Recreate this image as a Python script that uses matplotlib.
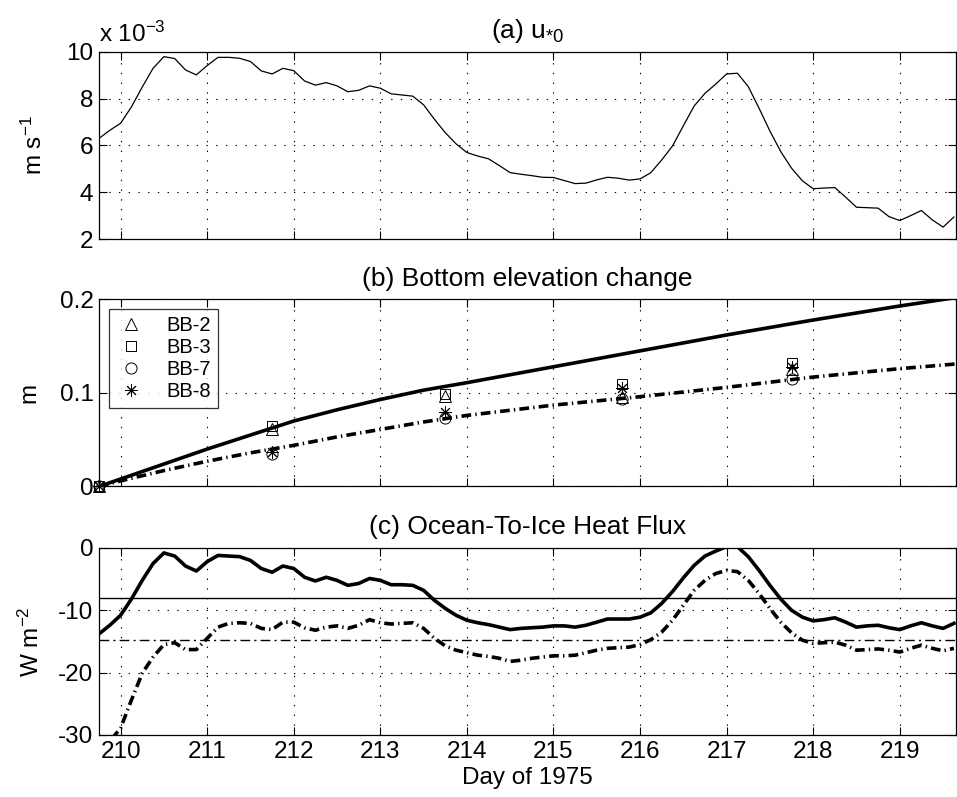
import numpy as np
import matplotlib
matplotlib.use('Agg')
import matplotlib.pyplot as plt

plt.rcParams['font.family'] = ['Liberation Sans', 'DejaVu Sans']
plt.rcParams['mathtext.default'] = 'regular'
plt.rcParams['lines.scale_dashes'] = False
plt.rcParams['axes.unicode_minus'] = False

# sampling every 3 hours
day = 209.75 + 0.125 * np.arange(80)

# (a) friction velocity, x 1e-3 m/s
ustar = [6.3, 6.65, 6.95, 7.65, 8.5, 9.3, 9.8, 9.72, 9.23, 9.02,
         9.42, 9.77, 9.77, 9.73, 9.59, 9.19, 9.06, 9.30, 9.20, 8.76,
         8.58, 8.69, 8.55, 8.30, 8.36, 8.55, 8.45, 8.21, 8.16, 8.11,
         7.74, 7.12, 6.55, 6.07, 5.70, 5.55, 5.43, 5.14, 4.84, 4.77,
         4.71, 4.64, 4.63, 4.50, 4.37, 4.39, 4.53, 4.64, 4.60, 4.52,
         4.57, 4.84, 5.38, 5.98, 6.84, 7.69, 8.23, 8.63, 9.06, 9.09,
         8.52, 7.59, 6.62, 5.74, 5.03, 4.49, 4.15, 4.18, 4.20, 3.79,
         3.36, 3.34, 3.32, 2.96, 2.79, 3.00, 3.22, 2.82, 2.51, 2.94]

# (c) heat flux, W m-2 (solid and dash-dot model runs)
flux_solid = [-13.8, -12.4, -10.8, -8.2, -5.2, -2.5, -0.8, -1.3, -2.9, -3.7,
              -2.2, -1.2, -1.3, -1.4, -2.0, -3.3, -3.9, -2.9, -3.3, -4.7,
              -5.3, -4.7, -5.2, -6.0, -5.7, -4.9, -5.2, -5.9, -5.9, -6.0,
              -6.8, -8.4, -9.7, -10.8, -11.6, -12.0, -12.3, -12.7, -13.1, -12.9,
              -12.8, -12.7, -12.5, -12.5, -12.7, -12.4, -11.9, -11.4, -11.4, -11.4,
              -11.1, -10.4, -8.9, -7.0, -4.8, -2.8, -1.3, -0.5, 0.2, 0.2,
              -1.4, -3.6, -6.0, -8.2, -10.0, -11.1, -11.7, -11.5, -11.2, -11.9,
              -12.7, -12.5, -12.4, -12.8, -13.1, -12.5, -12.0, -12.5, -12.9, -12.1]
flux_dash = [-33.0, -31.0, -28.9, -24.4, -20.1, -17.5, -15.5, -15.2, -16.3, -16.3,
             -14.5, -12.7, -12.1, -12.0, -12.1, -12.9, -13.1, -11.9, -11.9, -12.8,
             -13.2, -12.7, -12.5, -12.9, -12.4, -11.5, -12.0, -12.2, -12.1, -12.0,
             -12.9, -14.5, -15.7, -16.4, -16.8, -17.2, -17.4, -17.7, -18.2, -18.0,
             -17.7, -17.5, -17.3, -17.3, -17.2, -16.8, -16.4, -16.1, -16.0, -15.9,
             -15.5, -14.7, -13.5, -11.6, -9.2, -6.8, -5.2, -4.1, -3.6, -3.8,
             -5.2, -7.3, -9.7, -11.9, -13.6, -14.8, -15.3, -15.2, -15.1, -15.6,
             -16.4, -16.3, -16.2, -16.4, -16.7, -16.1, -15.6, -16.1, -16.5, -16.1]
flux_solid_mean = -8.0
flux_dash_mean = -14.8

# (b) bottom elevation change, m
elev_day = [209.75, 210.0, 210.5, 211.0, 211.5, 212.0, 212.5, 213.0, 213.5, 214.0,
            215.0, 216.0, 217.0, 218.0, 219.0, 219.65]
elev_solid = [0.0, 0.008, 0.024, 0.040, 0.055, 0.070, 0.082, 0.093, 0.103, 0.111,
              0.128, 0.145, 0.162, 0.178, 0.193, 0.202]
elev_dash = [0.0, 0.006, 0.017, 0.027, 0.036, 0.044, 0.053, 0.061, 0.069, 0.076,
             0.087, 0.096, 0.106, 0.117, 0.126, 0.131]

obs_day = [209.75, 211.75, 213.75, 215.79, 217.75]
bb2 = [0.0, 0.062, 0.097, 0.096, 0.126]
bb3 = [0.0, 0.065, 0.099, 0.110, 0.132]
bb7 = [0.0, 0.035, 0.073, 0.094, 0.115]
bb8 = [0.0, 0.037, 0.080, 0.105, 0.128]

fs = 17.5
tfs = 19
dashdot_thick = (0, (7, 3, 1, 3))
dashdot_thin = (0, (7, 3, 1.5, 3))

fig = plt.figure(figsize=(9.57, 7.97), dpi=100)
left, width, height = 0.1034, 0.8956, 0.2347
ax_a = fig.add_axes([left, 0.7001, width, height])
ax_b = fig.add_axes([left, 0.3896, width, height])
ax_c = fig.add_axes([left, 0.0778, width, height])

for ax in (ax_a, ax_b, ax_c):
    ax.set_xlim(209.75, 219.65)
    ax.set_xticks(np.arange(210, 220))
    ax.grid(True, color='black', linestyle=(0, (1, 6)), linewidth=0.8)
    ax.tick_params(direction='in', length=6, width=0.8, top=True, right=True,
                   labelsize=fs, pad=4)
    for s in ax.spines.values():
        s.set_linewidth(0.9)

# panel a
ax_a.plot(day, ustar, color='black', linewidth=0.9)
ax_a.set_ylim(2, 10)
ax_a.set_yticks([2, 4, 6, 8, 10])
ax_a.set_xticklabels([])
ax_a.set_ylabel('m s$^{-1}$', fontsize=fs, labelpad=14)
ax_a.set_title('(a) u$_{*0}$', fontsize=tfs, pad=10)
ax_a.text(0.0, 1.025, 'x 10$^{-3}$', transform=ax_a.transAxes, fontsize=fs,
          ha='left', va='bottom')

# panel b
ax_b.plot(elev_day, elev_solid, color='black', linewidth=2.6)
ax_b.plot(elev_day, elev_dash, color='black', linewidth=2.6, linestyle=dashdot_thick)
mk = dict(color='black', markerfacecolor='none', linestyle='none',
          markeredgewidth=0.7, clip_on=False)
ax_b.plot(obs_day, bb2, marker='^', markersize=9, label='BB-2', **mk)
ax_b.plot(obs_day, bb3, marker='s', markersize=7, label='BB-3', **mk)
ax_b.plot(obs_day, bb7, marker='o', markersize=8, label='BB-7', **mk)
ax_b.plot(obs_day, bb8, marker=(8, 2, 0), markersize=9, label='BB-8', **mk)
ax_b.set_ylim(0, 0.2)
ax_b.set_yticks([0, 0.1, 0.2])
ax_b.set_yticklabels(['0', '0.1', '0.2'])
ax_b.set_xticklabels([])
ax_b.set_ylabel('m', fontsize=fs, labelpad=14)
ax_b.set_title('(b) Bottom elevation change', fontsize=tfs, pad=10)
leg = ax_b.legend(loc='upper left', bbox_to_anchor=(0.0117, 0.948), fontsize=14.5,
                  frameon=True, fancybox=False, edgecolor='black',
                  handlelength=1.5, handletextpad=1.0, borderpad=0.35,
                  labelspacing=0.15, borderaxespad=0)
leg.get_frame().set_linewidth(0.9)

# panel c
ax_c.plot(day, flux_solid, color='black', linewidth=2.6)
ax_c.plot(day, flux_dash, color='black', linewidth=2.6, linestyle=dashdot_thick)
ax_c.axhline(flux_solid_mean, color='black', linewidth=1.0)
ax_c.axhline(flux_dash_mean, color='black', linewidth=1.0, linestyle=dashdot_thin)
ax_c.set_ylim(-30, 0)
ax_c.set_yticks([-30, -20, -10, 0])
ax_c.set_ylabel('W m$^{-2}$', fontsize=fs, labelpad=10)
ax_c.set_title('(c) Ocean-To-Ice Heat Flux', fontsize=tfs, pad=10)
ax_c.set_xlabel('Day of 1975', fontsize=fs, labelpad=3)

fig.savefig('out.png', dpi=100)
